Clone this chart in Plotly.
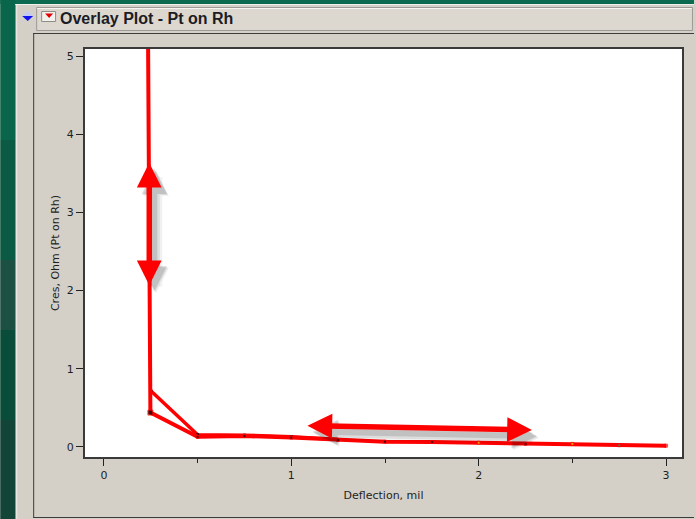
import plotly.graph_objects as go

# ---------------- data ----------------
defl_main = [0.235, 0.248, 0.5, 0.75, 1.0, 1.25, 1.5, 1.75, 2.0, 2.25, 2.5, 2.75, 3.0]
cres_main = [5.4, 0.44, 0.13, 0.14, 0.12, 0.088, 0.068, 0.064, 0.055, 0.04, 0.04, 0.022, 0.017]
mark_main = ["#000000", "#000000", "#000000", "#000000", "#000000", "#000000", "#000000",
             "#000000", "#e6e600", "#000000", "#e6e600", "#1fa37a", "#ff0000"]
size_main = [3, 5, 3, 3, 3, 3, 3, 3, 3, 3, 3, 3, 3]

defl_second = [0.25, 0.5, 0.75, 1.0, 1.25]
cres_second = [0.72, 0.155, 0.15, 0.132, 0.095]

x_ticks = [0, 1, 2, 3]
y_ticks = [0, 1, 2, 3, 4, 5]

# annotation arrows (tip coordinates, data units)
arrow_vertical = [(0.242, 2.05), (0.242, 3.636)]
arrow_horizontal = [(1.078, 0.272), (2.284, 0.217)]

title_text = "Overlay Plot - Pt on Rh"
x_title = "Deflection, mil"
y_title = "Cres, Ohm (Pt on Rh)"

# ---------------- layout geometry ----------------
W, H = 696, 519
L, R, T, B = 85, 12, 49, 62
PW, PH = W - L - R, H - T - B


def px(xp):
    return (xp - L) / PW


def py(yp):
    return (H - B - yp) / PH


fig = go.Figure()

fig.add_trace(go.Scatter(
    x=defl_second, y=cres_second, mode="lines+markers",
    line=dict(color="#ff0000", width=3.5),
    marker=dict(color="#000000", size=3, symbol="square"),
    showlegend=False, hoverinfo="skip"))

fig.add_trace(go.Scatter(
    x=defl_main, y=cres_main, mode="lines+markers",
    line=dict(color="#ff0000", width=4),
    marker=dict(color=mark_main, size=size_main, symbol="square"),
    showlegend=False, hoverinfo="skip"))

shapes = []


def rect(x0, y0, x1, y1, fill, line=None, lw=0):
    shapes.append(dict(type="rect", xref="paper", yref="paper",
                       x0=px(x0), x1=px(x1), y0=py(y1), y1=py(y0),
                       fillcolor=fill, line=dict(color=line or fill, width=lw),
                       layer="below"))


def hline(x0, x1, y, color, w=1):
    shapes.append(dict(type="line", xref="paper", yref="paper",
                       x0=px(x0), x1=px(x1), y0=py(y), y1=py(y),
                       line=dict(color=color, width=w), layer="below"))


def vline(x, y0, y1, color, w=1):
    shapes.append(dict(type="line", xref="paper", yref="paper",
                       x0=px(x), x1=px(x), y0=py(y0), y1=py(y1),
                       line=dict(color=color, width=w), layer="below"))


def poly(points, fill):
    d = "M " + " L ".join(f"{px(a)},{py(b)}" for a, b in points) + " Z"
    shapes.append(dict(type="path", xref="paper", yref="paper", path=d,
                       fillcolor=fill, line=dict(color=fill, width=0), layer="below"))


# green desktop background
rect(0, 0, W, 4, "#0b6a4f")
rect(0, 0, 15, 140, "#0a664b")
rect(0, 140, 15, 260, "#0a5a44")
rect(0, 260, 15, 330, "#1c5043")
rect(0, 330, 15, 420, "#0a4c3a")
rect(0, 420, 15, H, "#134438")
# window frame edges
vline(15.5, 4, H, "#8a8a8a")
vline(16.5, 4, H, "#f2f0ec")
hline(15, W, 4.5, "#f2f0ec")
# title bar box
rect(36.5, 7.5, 694.5, 30.5, "#dcd8d0", "#9c9a96", 1)
hline(37, 694, 8.5, "#f6f5f2")
# diamond icon
poly([(22, 16), (27.5, 11), (33, 16)], "#c4c8f4")
poly([(22, 16), (27.5, 21), (33, 16)], "#1010ee")
# red disclosure button
rect(41.5, 11.5, 55.5, 21.5, "#f3f1ee", "#8e8c88", 1)
poly([(45, 13.5), (53, 13.5), (49, 18)], "#e00000")
# inner panel border
hline(33, W, 33.5, "#3c3c3c")
vline(33.5, 33, 517.5, "#3c3c3c")
hline(33, W, 517.5, "#3c3c3c")

annotations = [dict(xref="paper", yref="paper", x=px(58), y=py(18.5),
                    xanchor="left", yanchor="middle", showarrow=False,
                    text=title_text,
                    font=dict(family="Liberation Sans", size=16, color="#1c1c24", weight="bold"))]


def arrow(p0, p1, color, width, size, dx=0, dy=0):
    annotations.append(dict(
        x=p1[0], y=p1[1], ax=p0[0], ay=p0[1], xref="x", yref="y", axref="x", ayref="y",
        text="", showarrow=True, arrowhead=2, startarrowhead=2, arrowside="end+start",
        arrowsize=size, startarrowsize=size, arrowwidth=width, arrowcolor=color,
        standoff=0, startstandoff=0, xshift=dx, yshift=dy))


for pts in (arrow_vertical, arrow_horizontal):
    arrow(pts[0], pts[1], "rgba(0,0,0,0.05)", 12, 0.42, 7, -8)
    arrow(pts[0], pts[1], "rgba(0,0,0,0.08)", 9, 0.56, 6, -7)
    arrow(pts[0], pts[1], "rgba(0,0,0,0.12)", 6, 0.84, 5, -6)
    arrow(pts[0], pts[1], "#ff0000", 5.5, 0.9)

axis_font = dict(family="DejaVu Sans", size=11, color="#1e1e1e")

fig.update_layout(
    width=W, height=H, margin=dict(l=L, r=R, t=T, b=B, pad=0),
    paper_bgcolor="#d4d0c8", plot_bgcolor="#ffffff",
    shapes=shapes, annotations=annotations, showlegend=False,
    xaxis=dict(range=[-0.101, 3.085], tickvals=x_ticks, ticktext=[str(v) for v in x_ticks],
               ticks="outside", ticklen=7, tickwidth=1, tickcolor="#222222",
               minor=dict(dtick=0.5, ticks="outside", ticklen=4, tickwidth=1, tickcolor="#222222"),
               showline=True, linecolor="#3a3a3a", linewidth=2, mirror=True,
               showgrid=False, zeroline=False, tickfont=axis_font,
               title=dict(text=x_title, font=axis_font, standoff=10)),
    yaxis=dict(range=[-0.128, 5.09], tickvals=y_ticks, ticktext=[str(v) for v in y_ticks],
               ticks="outside", ticklen=7, tickwidth=1, tickcolor="#222222",
               showline=True, linecolor="#3a3a3a", linewidth=2, mirror=True,
               showgrid=False, zeroline=False, tickfont=axis_font,
               title=dict(text=y_title, font=axis_font, standoff=5)),
)

fig.write_html("out.html")
